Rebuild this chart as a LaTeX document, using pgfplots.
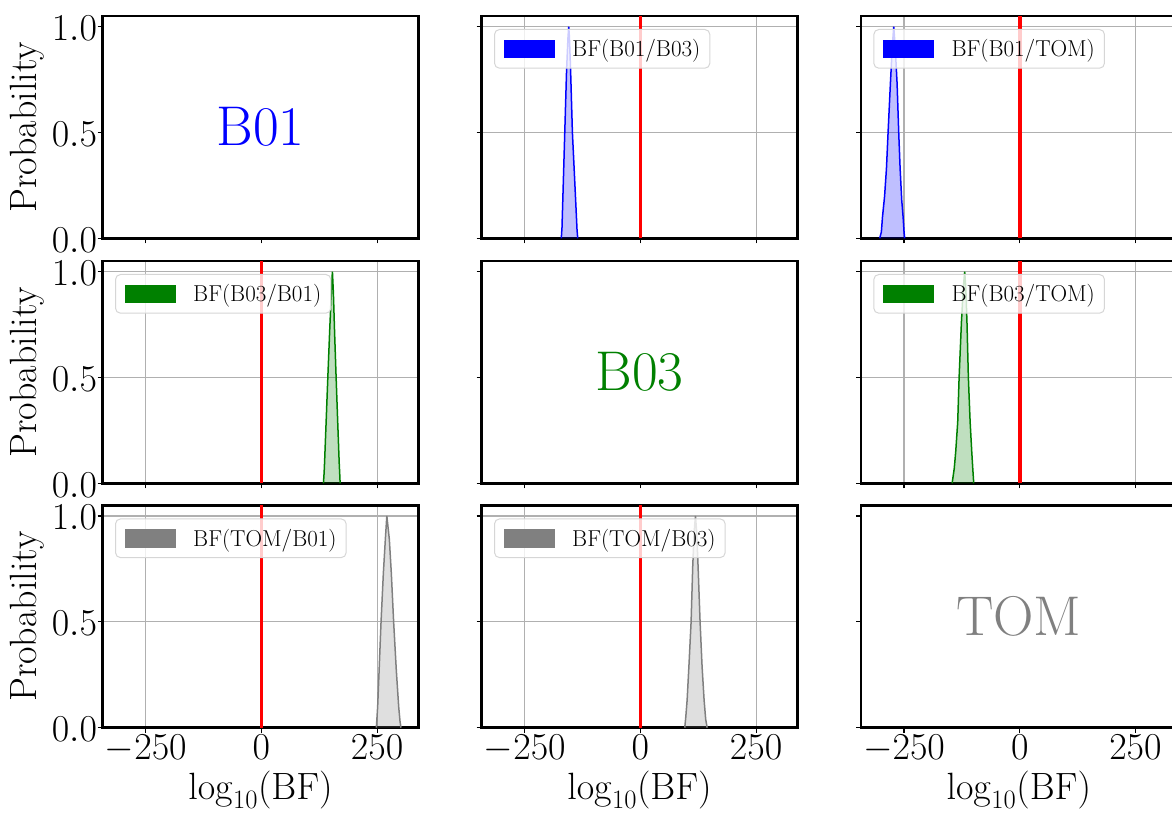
\RequirePackage{fix-cm}
\documentclass[border=0pt]{standalone}
\usepackage{pgfplots}
\usepackage{pgfplotstable}
\pgfplotsset{compat=1.18}
\definecolor{gridgray}{RGB}{176,176,176}
\definecolor{mgreen}{RGB}{0,128,0}
\definecolor{mgray}{RGB}{128,128,128}
\definecolor{legedge}{RGB}{214,214,214}
\newcommand{\tickfont}{\fontsize{38}{41}\selectfont}
\newcommand{\legpatch}[1]{\addlegendimage{legend image code/.code={\fill[#1, fill opacity=1, sharp corners] (0pt,-8.85pt) rectangle (49.6pt,8.85pt);}}}

% BF(B01/B03)
\pgfplotstableread{
x y
-171 0
-169.5 0.05
-167.5 0.2
-163.5 0.5
-159.5 0.8
-156.5 0.95
-155 1
-153.5 0.95
-151 0.8
-147 0.5
-140 0.18
-137 0.04
-135.5 0
}\tabAB
% BF(B01/TOM)
\pgfplotstableread{
x y
-302.6 0
-299 0.03
-296.6 0.1
-292 0.2
-288 0.33
-284.5 0.5
-279.5 0.73
-275.5 0.9
-272.3 1
-269 0.9
-265 0.73
-261.5 0.5
-258.5 0.33
-255 0.18
-252 0.1
-250 0.03
-248.6 0
}\tabAT
% BF(B03/B01)
\pgfplotstableread{
x y
134 0
135.5 0.05
136.5 0.1
140 0.3
143.5 0.5
147.5 0.72
151 0.9
153.4 1
155.5 0.9
158 0.72
161.4 0.5
165 0.28
168 0.1
169.3 0.04
170.1 0
}\tabBA
% BF(B03/TOM)
\pgfplotstableread{
x y
-146.1 0
-141.5 0.07
-138.3 0.15
-134 0.29
-131 0.5
-126 0.76
-122 0.92
-119 1
-116.5 0.92
-114 0.76
-111 0.5
-107.2 0.29
-103.7 0.15
-101.5 0.07
-99.4 0
}\tabBT
% BF(TOM/B01)
\pgfplotstableread{
x y
248.3 0
249.5 0.04
251.2 0.1
254.5 0.28
258.5 0.5
263.5 0.73
267.8 0.89
271 1
276.4 0.89
280.7 0.73
285.7 0.5
291.5 0.27
296.6 0.1
299.5 0.03
301.6 0
}\tabTA
% BF(TOM/B03)
\pgfplotstableread{
x y
95.8 0
98 0.05
100.9 0.13
105 0.3
109.5 0.5
113 0.76
116 0.92
118.9 1
121.7 0.92
124.6 0.76
128.9 0.5
133.2 0.29
137.6 0.13
141 0.04
144.2 0
}\tabTB

\pgfplotsset{
  panel/.style={
    scale only axis, width=315.6pt, height=222.3pt,
    xmin=-343, xmax=339, ymin=0, ymax=1.05,
    xtick={-250,0,250}, ytick={0,0.5,1},
    xticklabels={,,}, yticklabels={,,},
    tick pos=left, tick align=outside,
    major tick length=5pt,
    every tick/.style={black, line width=1.2pt},
    axis line style={line width=2.5pt},
    ticklabel style={font=\tickfont, inner sep=0pt},
    xticklabel style={yshift=-2.3pt},
    yticklabel style={yshift=-1.5pt, xshift=-0.5pt},
    label style={font=\tickfont},
    legend style={at={(0.039,0.9415)}, anchor=north west, draw=legedge, line width=1pt,
      rounded corners=5pt, fill=white, fill opacity=0.8, text opacity=1, draw opacity=1,
      font=\fontsize{23}{27}\selectfont, inner xsep=9.6pt, inner ysep=10pt,
      nodes={inner sep=0pt}, column sep=17.5pt},
    legend cell align=left,
  },
  offdiag/.style={grid=major, major grid style={gridgray, line width=1.1pt}},
  xlab/.style={xticklabels={$-250$,$0$,$250$}, xlabel={$\log_{10}(\mathrm{BF})$},
    xlabel style={at={(axis description cs:0.5,-0.322)}, anchor=base, inner sep=0pt}},
  ylab/.style={yticklabels={$0.0$,$0.5$,$1.0$}, ylabel={Probability},
    ylabel style={at={(axis description cs:-0.186,0.5)}, anchor=south, inner sep=0pt}},
  fillb/.style={draw=none, fill=#1, fill opacity=0.25, forget plot},
  lineb/.style={#1, line width=1.5pt, forget plot},
  zeroline/.style={red, line width=3.8pt, forget plot},
}

\begin{document}
\begin{tikzpicture}
% Row 1
\begin{axis}[panel, ylab, at={(102.7pt,574.7pt)}, anchor=south west]
\node[text=blue, font=\fontsize{56}{60}\selectfont] at (rel axis cs:0.5,0.5) {B01};
\end{axis}
\begin{axis}[panel, offdiag, at={(481.7pt,574.7pt)}, anchor=south west]
\addplot[fillb=blue] table {\tabAB} \closedcycle;
\addplot[lineb=blue] table {\tabAB};
\addplot[zeroline] coordinates {(0,0) (0,1.05)};
\legpatch{blue}
\addlegendentry{BF(B01/B03)}
\end{axis}
\begin{axis}[panel, offdiag, at={(861pt,574.7pt)}, anchor=south west]
\addplot[fillb=blue] table {\tabAT} \closedcycle;
\addplot[lineb=blue] table {\tabAT};
\addplot[zeroline] coordinates {(0,0) (0,1.05)};
\legpatch{blue}
\addlegendentry{BF(B01/TOM)}
\end{axis}
% Row 2
\begin{axis}[panel, offdiag, ylab, at={(102.7pt,329.7pt)}, anchor=south west]
\addplot[fillb=mgreen] table {\tabBA} \closedcycle;
\addplot[lineb=mgreen] table {\tabBA};
\addplot[zeroline] coordinates {(0,0) (0,1.05)};
\legpatch{mgreen}
\addlegendentry{BF(B03/B01)}
\end{axis}
\begin{axis}[panel, at={(481.7pt,329.7pt)}, anchor=south west]
\node[text=mgreen, font=\fontsize{56}{60}\selectfont] at (rel axis cs:0.5,0.5) {B03};
\end{axis}
\begin{axis}[panel, offdiag, at={(861pt,329.7pt)}, anchor=south west]
\addplot[fillb=mgreen] table {\tabBT} \closedcycle;
\addplot[lineb=mgreen] table {\tabBT};
\addplot[zeroline] coordinates {(0,0) (0,1.05)};
\legpatch{mgreen}
\addlegendentry{BF(B03/TOM)}
\end{axis}
% Row 3
\begin{axis}[panel, offdiag, ylab, xlab, at={(102.7pt,85.3pt)}, anchor=south west]
\addplot[fillb=mgray] table {\tabTA} \closedcycle;
\addplot[lineb=mgray] table {\tabTA};
\addplot[zeroline] coordinates {(0,0) (0,1.05)};
\legpatch{mgray}
\addlegendentry{BF(TOM/B01)}
\end{axis}
\begin{axis}[panel, offdiag, xlab, at={(481.7pt,85.3pt)}, anchor=south west]
\addplot[fillb=mgray] table {\tabTB} \closedcycle;
\addplot[lineb=mgray] table {\tabTB};
\addplot[zeroline] coordinates {(0,0) (0,1.05)};
\legpatch{mgray}
\addlegendentry{BF(TOM/B03)}
\end{axis}
\begin{axis}[panel, xlab, at={(861pt,85.3pt)}, anchor=south west]
\node[text=mgray, font=\fontsize{56}{60}\selectfont] at (rel axis cs:0.5,0.5) {TOM};
\end{axis}
\pgfresetboundingbox
\path[use as bounding box] (0pt,0pt) rectangle (1172pt,813pt);
\end{tikzpicture}
\end{document}
